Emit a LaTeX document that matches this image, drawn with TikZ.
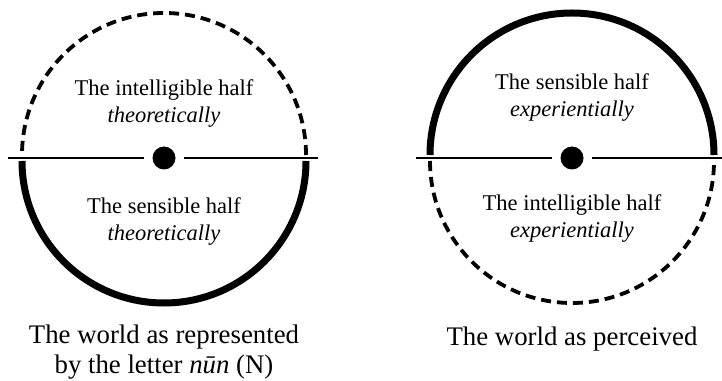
\documentclass[tikz,border=0pt]{standalone}
\usepackage{fontspec}
\setmainfont{Liberation Serif}
\usetikzlibrary{positioning}

\begin{document}
\begin{tikzpicture}[x=1pt, y=1pt,
        dot/.style={circle, fill=black, inner sep=0pt, minimum size=23pt, outer sep=8.5pt},
        axis/.style={line width=2pt},
        solidhalf/.style={line width=7pt},
        dashhalf/.style={line width=3.8pt, dash pattern=on 10pt off 6pt},
        half/.style={align=center, font=\fontsize{22.5}{27}\selectfont},
        caption/.style={align=center, font=\fontsize{26.8}{30}\selectfont}]
        \useasboundingbox (0,0) rectangle (722,380);

        % left picture: the letter nun
        \node[dot] (dotL) at (164,222) {};
        \coordinate (lineLa) at (8,222);
        \coordinate (lineLb) at (318,222);
        \draw[axis] (lineLa) -- (dotL);
        \draw[axis] (dotL) -- (lineLb);
        \draw[dashhalf] (306,225) arc (0:180:142);
        \draw[solidhalf] (22,219) arc (180:360:142);
        \node[half] (intelL) at (164,276) {The intelligible half\\\textit{theoretically}};
        \node[half] (sensL) at (164,158) {The sensible half\\\textit{theoretically}};
        \node[caption] (capL) at (164,28) {The world as represented\\by the letter \textit{nūn} (N)};

        % right picture: the perceived world
        \node[dot] (dotR) at (572,222) {};
        \coordinate (lineRa) at (416,222);
        \coordinate (lineRb) at (722,222);
        \draw[axis] (lineRa) -- (dotR);
        \draw[axis] (dotR) -- (lineRb);
        \draw[solidhalf] (714,225) arc (0:180:142);
        \draw[dashhalf] (430,219) arc (180:360:142);
        \node[half] (sensR) at (572,282) {The sensible half\\\textit{experientially}};
        \node[half] (intelR) at (572,161) {The intelligible half\\\textit{experientially}};
        \node[caption] (capR) at (572,41) {The world as perceived};
\end{tikzpicture}
\end{document}
